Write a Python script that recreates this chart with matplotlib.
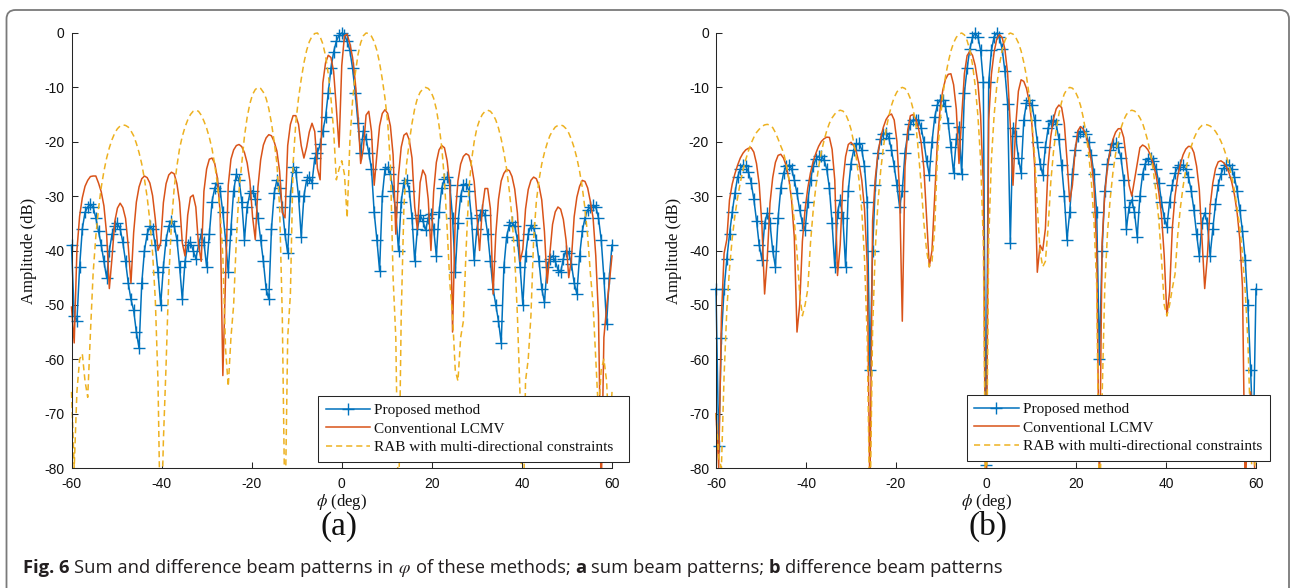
import numpy as np
import matplotlib
matplotlib.use('Agg')
import matplotlib.pyplot as plt
from matplotlib.patches import FancyBboxPatch, Rectangle

plt.rcParams['mathtext.fontset'] = 'stix'
plt.rcParams['axes.unicode_minus'] = False

# ---------------- data ----------------
phi = np.linspace(-60, 60, 201)          # sample angles, 0.6 deg apart
xticks = [-60, -40, -20, 0, 20, 40, 60]
yticks = [-80, -70, -60, -50, -40, -30, -20, -10, 0]
labels = ['Proposed method', 'Conventional LCMV', 'RAB with multi-directional constraints']

# (a) sum beam patterns
blue_a = [-39, -52, -53, -43, -36, -33, -32, -31.5, -32, -34,
          -36.5, -39, -42, -45, -40, -37, -35.5, -35, -36, -38.5,
          -42, -46, -49, -51, -55, -58, -46, -40, -37, -35.5,
          -36, -39, -44, -50, -43, -38, -35.5, -34.5, -35.5, -38,
          -43, -49, -42, -39, -38.5, -40, -41.5, -39, -37, -38.5,
          -43, -37, -31, -28.5, -27.5, -29, -33, -38, -44, -36,
          -29, -26, -27, -31, -38, -32, -29.5, -29, -30.5, -34,
          -38, -42, -47, -49, -36, -29.5, -27, -28.5, -32, -37,
          -40.5, -30, -24.7, -25.5, -30, -37.5, -30, -27, -26.5, -27.5,
          -23, -22, -20.5, -18, -15.5, -11, -6.5, -3.5, -1.5, -0.4,
          0,
          -0.4, -1.5, -3.2, -6.5, -11, -16.5, -22, -18, -19.5, -22,
          -25, -33, -38, -43.7, -30, -25, -24.7, -26, -29, -33,
          -40, -31, -27.5, -27, -29, -34, -42, -36, -33.5, -34.5,
          -36.3, -34, -33.2, -36, -41, -33, -28.5, -26.8, -26.5, -28,
          -34, -44, -35, -30, -28, -27.7, -29, -34, -41.8, -36,
          -33.5, -32.6, -33.5, -37, -42, -47, -50, -53, -57, -43,
          -37.5, -35.3, -34.8, -35.5, -38, -43, -50, -41, -37, -35.4,
          -35.8, -38, -42, -47, -49.5, -43, -41.5, -41, -42, -43.5,
          -44, -41.5, -40, -40.5, -42.5, -46, -48, -41, -36.5, -34,
          -32.5, -32, -31.7, -32, -34, -38, -45, -53.5, -45, -39]

red_a = [-50.4, -57, -40, -33.7, -30.3, -28.2, -27.1, -26.4, -26.3, -26.3,
         -27.6, -29.2, -31.8, -37, -47, -41.3, -34.7, -32.2, -31.3, -32.1,
         -34.1, -39.2, -46, -36.7, -31.1, -28.3, -26.8, -26.3, -26.6, -27.6,
         -29.9, -34.2, -40, -38.6, -31.2, -27.7, -26.1, -25.6, -25.9, -27.7,
         -31.1, -38.6, -41, -33.5, -30.2, -29.8, -32, -39, -42, -29.1,
         -25, -23.2, -23, -24, -26.7, -33, -63, -45, -28, -23.2,
         -21.5, -20.7, -20.5, -20.9, -22, -23.9, -27.2, -33.8, -38, -28.3,
         -23.3, -20.6, -19.3, -18.7, -18.9, -20, -21.7, -25.4, -33, -34,
         -20.7, -16.8, -15.2, -15.2, -16.8, -20.7, -23, -21, -18.2, -16.6,
         -18.1, -24.9, -27, -9.2, -5.5, -4.1, -4.5, -7.1, -13.8, -21,
         -6,
         -0.5, -0.2, -2, -4.5, -9, -15, -24, -21.3, -15.1, -14.4,
         -18.1, -28, -22.4, -17.1, -14.8, -14.1, -14.8, -17.1, -22.4, -37,
         -26.2, -21, -18.8, -18.4, -19.7, -23, -32, -36.1, -27.5, -25.2,
         -26.2, -30.6, -40, -29.2, -23.8, -21.5, -20.7, -21.1, -23.5, -28,
         -55, -33.7, -27.2, -24.1, -22.7, -22.2, -22.5, -24.3, -27.3, -33.5,
         -40, -32.3, -28.6, -28.6, -32.3, -48, -37, -30.6, -27.2, -25.8,
         -25.1, -25.3, -26.4, -28.7, -33.1, -42, -39.8, -32.4, -28.8, -27.1,
         -26.5, -26.8, -28.1, -30.7, -36.5, -46, -40.6, -35.2, -32.9, -32,
         -32.4, -34.3, -38.1, -45, -41.4, -33.8, -30.2, -28.2, -27.1, -27.3,
         -28.5, -31, -34, -41, -52, -85, -56, -50.5, -46, -41]

yel_a = [-66, -80, -66, -60, -59, -64, -67, -55.2, -44.2, -37.4,
         -32.3, -28.4, -25.4, -23, -21.1, -19.6, -18.4, -17.6, -17.1, -16.9,
         -17, -17.3, -18, -18.9, -20.3, -22, -24.1, -26.9, -30.2, -34.6,
         -40.4, -48.9, -64, -95, -75, -61, -45, -35, -28.5, -24.5,
         -21.2, -19, -17.3, -16, -15, -14.4, -14.2, -14.4, -15.1, -16.2,
         -17.5, -19.2, -21.3, -24.2, -27.8, -33, -41, -58, -65, -56,
         -50, -38, -29, -24, -19, -15.5, -13, -11.3, -10.4, -10,
         -10.2, -10.9, -12, -13.9, -16.6, -20, -24, -32, -52, -90,
         -56, -48, -24, -16.5, -12, -8.5, -5.5, -3.2, -1.6, -0.6,
         -0.1, 0, -0.7, -2, -4.2, -7.5, -12, -18, -27, -25,
         -23.5,
         -26, -34, -20, -12.5, -7.5, -4, -1.8, -0.5, 0, -0.1,
         -0.6, -1.6, -3.2, -5.5, -8.5, -12, -16.5, -24, -45, -56,
         -90, -52, -32, -24, -20, -16.6, -13.9, -12, -10.9, -10.3,
         -10, -10.2, -10.8, -12, -14, -17, -21, -27, -36, -46,
         -52, -62, -64, -56, -53, -40, -29, -23.5, -20, -17.5,
         -16, -15, -14.4, -14.2, -14.4, -15, -16, -17.5, -19.5, -22,
         -25, -29, -34, -41, -52, -67, -95, -64, -60, -52,
         -38, -31, -27, -24.1, -22, -20.3, -18.9, -18, -17.3, -17,
         -16.9, -17.1, -17.6, -18.4, -19.6, -21.1, -23, -25.4, -28.4, -32.3,
         -37.4, -44.2, -50, -60, -70, -62, -60, -64, -75, -66]

# (b) difference beam patterns
blue_b = [-47, -76, -56, -47, -41.6, -37, -33, -29.5, -26.5, -25,
          -24.3, -24.5, -25.5, -27.5, -30.5, -34.5, -39, -41.7, -35, -33.1,
          -35, -40, -43, -34, -28.5, -25.8, -24.5, -24.3, -25, -27,
          -29.5, -32.5, -35, -36.2, -31, -27, -24.5, -23.2, -22.7, -22.7,
          -23.3, -25, -28.5, -35, -43, -33, -30.7, -34, -43, -29,
          -24, -21.5, -20.5, -20.3, -21.5, -24.5, -31, -62, -40, -28,
          -22, -19.5, -18.5, -18.4, -19.3, -21.5, -24.5, -28, -32, -29,
          -22, -18.5, -16.8, -16, -16, -16, -17.5, -20, -23.5, -26.1,
          -20, -15.5, -13.2, -12.3, -12.3, -13.5, -16.5, -21, -25.8, -19.5,
          -17.2, -26, -11, -6.5, -3, -0.8, 0, -0.7, -3.2, -9,
          -79.5,
          -9, -3.2, -0.7, 0, -0.8, -3, -7, -13, -38.7, -17.4,
          -19, -23, -25.8, -16, -12.8, -12.3, -13.2, -16, -20, -24,
          -26.1, -21, -17.5, -16.2, -16, -16.8, -19.5, -24.3, -30, -38,
          -33, -26, -21.5, -19, -18.2, -18.1, -18.5, -20, -22.5, -26,
          -33, -60, -40, -29, -24, -21.5, -20.5, -20.3, -21, -23,
          -27, -36, -32, -30.7, -33, -37.5, -30, -26, -24, -23.2,
          -23, -23.5, -25, -27.5, -31, -34, -35.6, -31, -28, -25.8,
          -24.7, -24.3, -24.3, -25, -26.5, -29, -32.5, -37, -41, -35,
          -33.1, -35, -41, -36, -31.5, -28, -26, -24.8, -24.3, -24.3,
          -25, -26.5, -29, -32.5, -36.5, -41.7, -50, -62, -75, -47]

red_b = [-70, -80, -52.3, -40.5, -38, -30.7, -27.8, -25.9, -24.3, -23,
         -22.1, -21.5, -21.2, -21.1, -21.9, -24, -27.8, -35.3, -48, -41.3,
         -31.3, -26.6, -23.8, -22.5, -22.3, -23, -24.4, -26.8, -30.8, -37.6,
         -55, -50, -38.3, -32.4, -28.5, -25.7, -23.6, -22.1, -20.85, -19.95,
         -19.45, -19.15, -19.2, -21.4, -27.1, -44.6, -39, -27.4, -22.7, -20.5,
         -20.1, -20.7, -21.9, -24, -27.1, -32.3, -42.4, -85, -34.5, -26.7,
         -22.1, -19.2, -17.3, -15.9, -15.15, -14.9, -16, -19.9, -29.3, -53,
         -24.6, -17.9, -15.2, -15, -15.8, -17.5, -20.2, -24.9, -33.8, -43,
         -40, -30, -20, -14, -10.5, -8.5, -7.6, -7.5, -9.5, -14,
         -24, -15.4, -7.5, -4.15, -3.4, -4.1, -6, -9.2, -15.2, -28,
         -95,
         -16, -7.6, -3.5, -1.1, -0.3, -0.85, -3, -7.4, -17, -28,
         -17.1, -10.7, -8.6, -8.9, -10.2, -12.6, -16.8, -24.3, -44, -39,
         -40, -36, -24.4, -19, -15.8, -13.95, -13.25, -13.7, -16.6, -23.3,
         -31, -28, -21.7, -18, -17.2, -17.65, -18.7, -20.7, -23.5, -28.2,
         -40, -85, -38.5, -29.5, -24.7, -21.6, -19.6, -18.25, -17.6, -17.6,
         -19.2, -23.3, -28, -30, -27, -24, -21.1, -20.6, -20.9, -21.5,
         -22.6, -24.2, -26.2, -29.3, -33.5, -40.9, -52, -47.6, -35.9, -30,
         -26.4, -24.1, -22.4, -21.35, -20.85, -20.9, -22, -24.5, -28.8, -37.8,
         -47, -41, -31.9, -27.6, -24.95, -23.7, -23.5, -23.85, -24.5, -25.7,
         -27.4, -29.7, -33, -37.9, -46.8, -85, -70, -66, -75, -85]

yel_b = [-70, -78, -80, -63, -51, -43.4, -37.8, -33.6, -30.3, -27.5,
         -25.2, -23.3, -21.7, -20.3, -19.2, -18.3, -17.7, -17.2, -16.9, -16.8,
         -16.95, -17.4, -18.3, -19.5, -20.8, -22, -24.1, -26.9, -30.2, -34.6,
         -40.4, -48, -52, -50, -47.1, -38.6, -32.6, -28.2, -24.7, -21.9,
         -19.8, -18, -16.6, -15.6, -14.9, -14.4, -14.2, -14.35, -14.9, -16.1,
         -17.7, -20.1, -23.1, -27.2, -32.8, -41.5, -56, -90, -54.5, -39.7,
         -31.1, -25.3, -21, -17.7, -15.3, -13.3, -11.85, -10.85, -10.25, -10,
         -10.2, -10.9, -12.1, -14, -16.7, -22, -28, -35, -40, -43,
         -42, -36, -22.5, -16.3, -11.5, -8, -5.4, -3.3, -1.8, -0.8,
         -0.2, 0, -0.35, -1.4, -3.1, -5.8, -9.7, -15.2, -23.3, -38.3,
         -95,
         -38.3, -23.3, -15.2, -9.7, -5.8, -3.1, -1.4, -0.35, 0, -0.2,
         -0.8, -1.8, -3.3, -5.4, -8, -11.5, -16.3, -22.5, -32, -40,
         -43, -42, -35.8, -27.4, -21.8, -17.8, -14.9, -12.7, -11.2, -10.35,
         -10, -10.15, -10.7, -11.8, -13.3, -15.5, -18.3, -22.1, -27.2, -34.6,
         -46.6, -90, -67, -46.7, -36.7, -30.5, -25.7, -22.2, -19.6, -17.5,
         -16, -15, -14.4, -14.2, -14.35, -14.8, -15.6, -16.6, -18.2, -20,
         -22.4, -25.4, -29.4, -34.4, -41.5, -50, -52, -50, -47, -44.4,
         -37.2, -32.1, -28.2, -25.2, -22.8, -20.9, -19.4, -18.3, -17.5, -17,
         -16.8, -16.9, -17.1, -17.5, -18.1, -18.9, -19.9, -21.1, -22.6, -24.3,
         -26.5, -28.9, -32.2, -35.7, -40.8, -47.4, -56.8, -72.8, -90, -72]

for arr in (blue_a, red_a, yel_a, blue_b, red_b, yel_b):
    assert len(arr) == len(phi), len(arr)

# ---------------- figure ----------------
W, H = 1292, 588
fig = plt.figure(figsize=(W / 100, H / 100), dpi=100)
fig.patch.set_facecolor('white')

BLUE, RED, YEL = '#0072BD', '#D95319', '#EDB120'
AX_COL = '#262626'
TXT = '#111111'
SERIF = 'Liberation Serif'
SANS = 'Liberation Sans'


def px_axes(x0, x1, y0, y1):
    return fig.add_axes([x0 / W, 1 - y1 / H, (x1 - x0) / W, (y1 - y0) / H])


def draw_panel(ax, blue, red, yel, leg_right, leg_bottom, tail):
    l1, = ax.plot(phi, blue, color=BLUE, lw=1.1, marker='+', ms=8, mew=1.0,
                  label=labels[0])
    l2, = ax.plot(phi, red, color=RED, lw=1.1, label=labels[1])
    l3, = ax.plot(phi, yel, color=YEL, lw=1.1, ls=(0, (4, 2.6)), label=labels[2])
    clip = Rectangle((-0.02, 0), 1.04, 1.06, transform=ax.transAxes)
    for ln in (l1, l2, l3):
        ln.set_clip_path(clip)
    ax.set_xlim(-60, 60)
    ax.set_ylim(-80, 0)
    ax.set_xticks(xticks)
    ax.set_yticks(yticks)
    for s in ('top', 'right'):
        ax.spines[s].set_visible(False)
    for s in ('left', 'bottom'):
        ax.spines[s].set_color(AX_COL)
        ax.spines[s].set_linewidth(0.75)
    ax.tick_params(direction='in', length=4, width=0.75, colors=AX_COL,
                   labelsize=10)
    ax.tick_params(axis='x', pad=6.5)
    ax.tick_params(axis='y', pad=5)
    for t in ax.get_xticklabels() + ax.get_yticklabels():
        t.set_fontfamily(SANS)
        t.set_color(TXT)
    ax.set_ylabel('Amplitude (dB)', family=SERIF, fontsize=12, color=TXT)
    ax.yaxis.set_label_coords(-0.063, 0.5)
    ax.set_xlabel(r'$\phi$ (deg)', family=SERIF, fontsize=12, color=TXT)
    ax.xaxis.set_label_coords(0.5, -0.055)
    leg = ax.legend([l1, l2, l3], [lab + tail for lab in labels],
                    loc='lower right', bbox_to_anchor=(leg_right / W, 1 - leg_bottom / H),
                    bbox_transform=fig.transFigure,
                    prop={'family': SERIF, 'size': 11}, frameon=True, fancybox=False,
                    edgecolor=AX_COL, framealpha=1, handlelength=2.9,
                    handletextpad=0.3, borderpad=0.5, labelspacing=0.33,
                    borderaxespad=0)
    leg.get_frame().set_linewidth(0.75)
    for t in leg.get_texts():
        t.set_color(TXT)


ax_a = px_axes(71.5, 612, 33, 468)
draw_panel(ax_a, blue_a, red_a, yel_a, 629, 462, '\u2002')
ax_b = px_axes(716, 1256, 33, 468)
draw_panel(ax_b, blue_b, red_b, yel_b, 1270, 461, '')

# panel letters
fig.text(339 / W, 1 - 527 / H, '(a)', family=SERIF, fontsize=24, ha='center',
         va='center', color=TXT)
fig.text(987.5 / W, 1 - 526 / H, '(b)', family=SERIF, fontsize=24, ha='center',
         va='center', color=TXT)

# outer rounded frame
frame = FancyBboxPatch((0.065, -0.3), 12.825, 5.78 + 0.3,
                       boxstyle='round,pad=0,rounding_size=0.09',
                       transform=fig.dpi_scale_trans, facecolor='none',
                       edgecolor='#7a7a7a', lw=1.3)
fig.add_artist(frame)

# caption
CAPFONT = 'Open Sans'
CAPCOL = '#231f20'
pieces = [('Fig. 6', 'bold'), ('Sum and difference beam patterns in', 'normal'),
          (r'$\varphi$', 'normal'), ('of these methods;', 'normal'), ('a', 'bold'),
          ('sum beam patterns;', 'normal'), ('b', 'bold'),
          ('difference beam patterns', 'normal')]
renderer = fig.canvas.get_renderer()
X0, X1, YB = 22.7, 996.7, 573.0


def layout(fs):
    probe1 = fig.text(0, 0, 'x x', fontsize=fs, family=CAPFONT)
    probe2 = fig.text(0, 0, 'xx', fontsize=fs, family=CAPFONT)
    sp = probe1.get_window_extent(renderer).width - probe2.get_window_extent(renderer).width
    probe1.remove()
    probe2.remove()
    x = X0
    made = []
    for i, (s, w) in enumerate(pieces):
        if i > 0:
            x += sp
        t = fig.text(x / W, 1 - YB / H, s, fontsize=fs, fontweight=w,
                     family=CAPFONT, color=CAPCOL, va='baseline', ha='left')
        x += t.get_window_extent(renderer).width
        made.append(t)
    return made, x


fs0 = 12.0
made, xend = layout(fs0)
for t in made:
    t.remove()
fs1 = fs0 * (X1 - X0) / (xend - X0)
layout(fs1)

fig.savefig('out.png', dpi=100, facecolor='white')
